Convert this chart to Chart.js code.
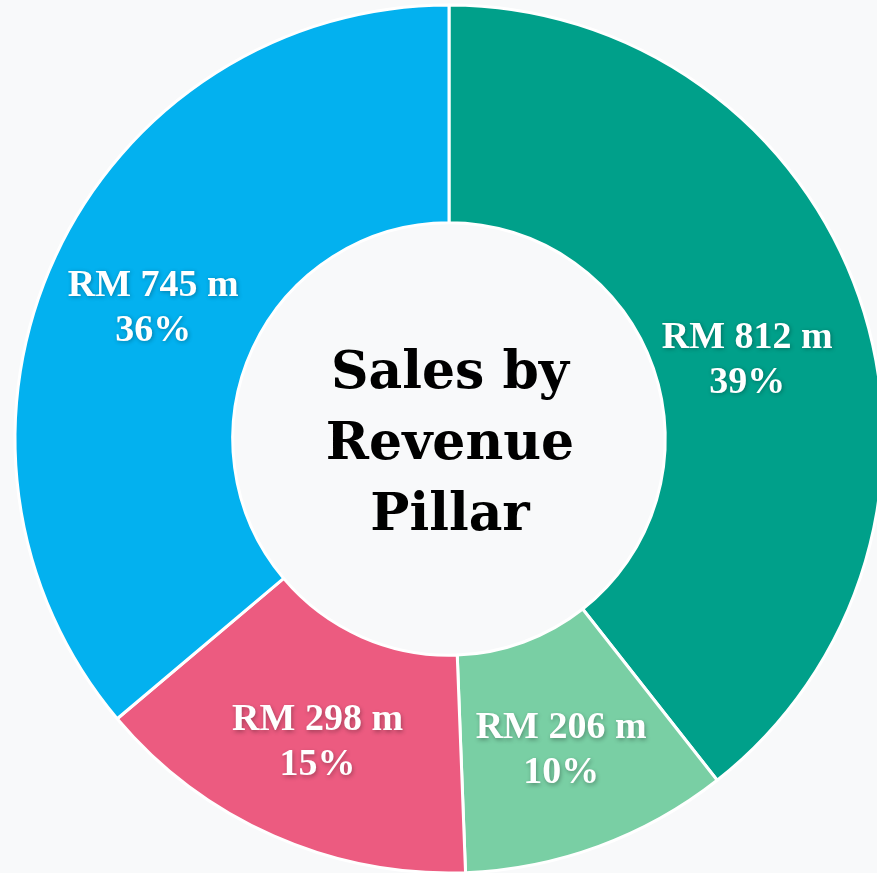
<!DOCTYPE html>
<html>
<head>
<meta charset="utf-8">
<script src="https://cdn.jsdelivr.net/npm/chart.js@4"></script>
<style>
  html, body { margin: 0; padding: 0; overflow: hidden; background: #f8f9fa; width: 877px; height: 873px; }
  #wrap { position: absolute; left: 0; top: 0; width: 898px; height: 878px; }
</style>
</head>
<body>
<div id="wrap"><canvas id="pie" width="898" height="878"></canvas></div>
<script>
// chart data
const pillars = ['Pillar A', 'Pillar B', 'Pillar C', 'Pillar D'];
const salesRM = [812, 206, 298, 745];
const shareLabels = ['39%', '10%', '15%', '36%'];
const sliceColors = ['#00a08a', '#79cfa4', '#ec5b80', '#03b1ef'];
const titleLines = ['Sales by', 'Revenue', 'Pillar'];

// draws the white labels on each slice and the title in the hole
const sliceText = {
    id: 'sliceText',
    afterDatasetsDraw(chart, args, opts) {
        const ctx = chart.ctx;
        const meta = chart.getDatasetMeta(0);
        const nudge = opts.nudge || [];
        ctx.save();
        ctx.textAlign = 'center';
        ctx.textBaseline = 'alphabetic';
        ctx.font = 'bold 38px "Liberation Serif", serif';
        ctx.fillStyle = '#ffffff';
        ctx.shadowColor = 'rgba(0, 0, 0, 0.3)';
        ctx.shadowBlur = 4;
        ctx.shadowOffsetX = 1;
        ctx.shadowOffsetY = 1.5;
        meta.data.forEach((arc, i) => {
            const p = arc.tooltipPosition();
            const d = nudge[i] || [0, 0];
            const x = p.x + d[0], y = p.y + d[1];
            ctx.fillText('RM ' + salesRM[i] + ' m', x, y - 6);
            ctx.fillText(shareLabels[i], x, y + 39);
        });
        ctx.restore();

        // title in the middle
        const cx = meta.data[0].x, cy = meta.data[0].y;
        ctx.save();
        ctx.textAlign = 'center';
        ctx.textBaseline = 'alphabetic';
        ctx.fillStyle = '#000000';
        ctx.font = 'bold 52px "DejaVu Serif", serif';
        titleLines.forEach((t, i) => {
            ctx.fillText(t, cx + 1, cy - 51 + i * 71);
        });
        ctx.restore();
    }
};

new Chart(document.getElementById('pie'), {
    type: 'doughnut',
    data: {
        labels: pillars,
        datasets: [{
            data: salesRM,
            backgroundColor: sliceColors,
            borderColor: '#ffffff',
            borderWidth: 3
        }]
    },
    options: {
        responsive: false,
        animation: false,
        radius: 434,
        cutout: 218,
        layout: { padding: 0 },
        plugins: {
            legend: { display: false },
            tooltip: { enabled: false },
            sliceText: { nudge: [[-9, 21], [0, 0], [0, 0], [-1, 0]] }
        }
    },
    plugins: [sliceText]
});
</script>
</body>
</html>
